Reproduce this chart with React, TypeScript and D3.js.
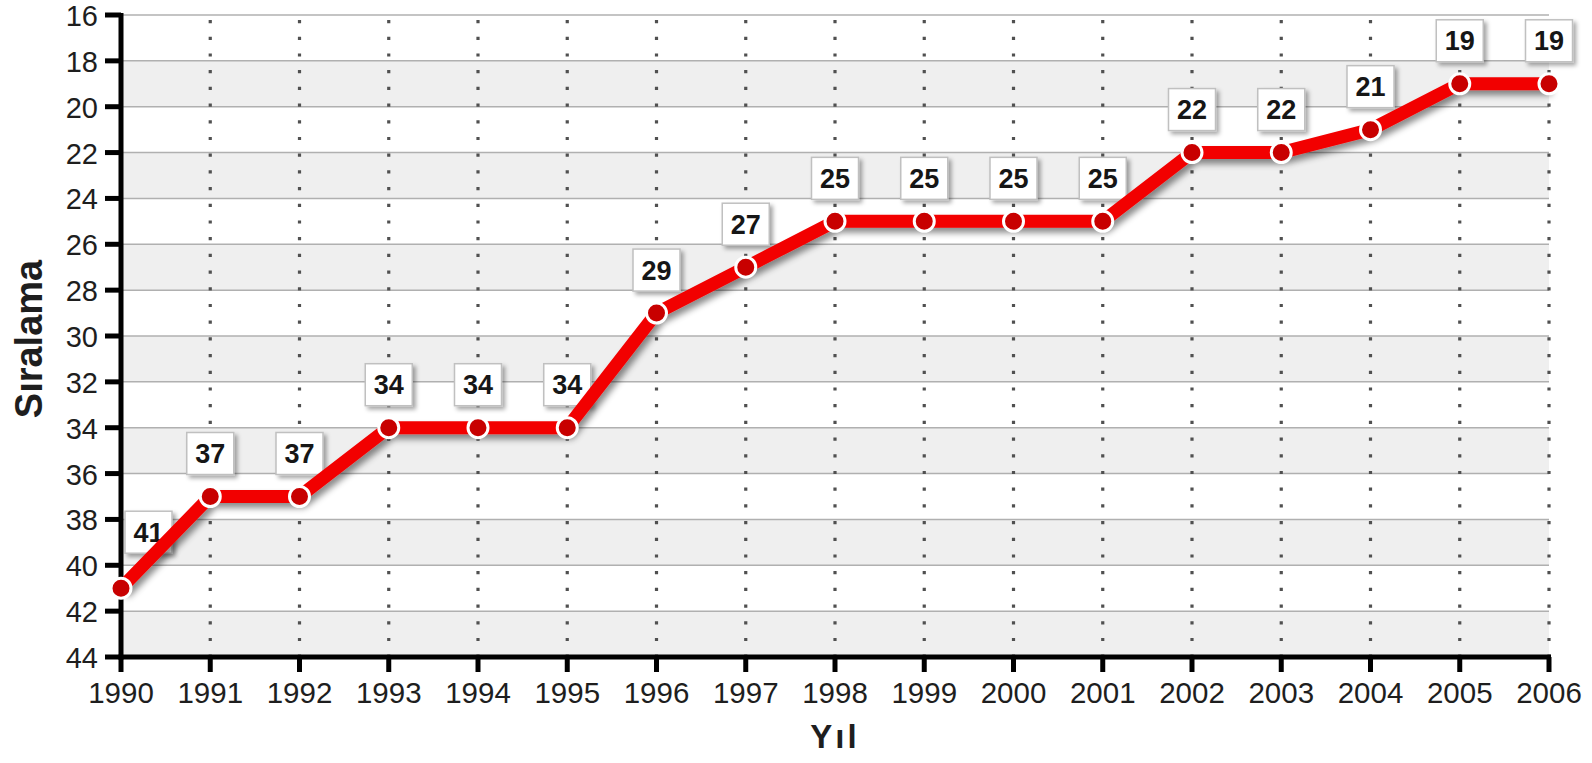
import React from "react";
import * as d3 from "d3";

const years: number[] = [1990, 1991, 1992, 1993, 1994, 1995, 1996, 1997, 1998, 1999, 2000, 2001, 2002, 2003, 2004, 2005, 2006];
const ranks: number[] = [41, 37, 37, 34, 34, 34, 29, 27, 25, 25, 25, 25, 22, 22, 21, 19, 19];
const yTicks: number[] = [16, 18, 20, 22, 24, 26, 28, 30, 32, 34, 36, 38, 40, 42, 44];
const yTitle = "Sıralama";
const xTitle = "Yıl";

const W = 1592;
const H = 763;
const X0 = 121;
const X1 = 1549;
const Y0 = 15;
const Y1 = 657;
const FONT = "'Liberation Sans', Arial, Helvetica, sans-serif";

export default function App() {
  const x = d3.scaleLinear().domain([years[0], years[years.length - 1]]).range([X0, X1]);
  const y = d3.scaleLinear().domain([16, 44]).range([Y0, Y1]);
  const pts = years.map((yr, i) => ({ yr, v: ranks[i], px: x(yr), py: y(ranks[i]) }));
  const line = d3.line<{ px: number; py: number }>().x((d) => d.px).y((d) => d.py);

  const bands: [number, number][] = [];
  for (let i = 1; i + 1 < yTicks.length; i += 2) bands.push([yTicks[i], yTicks[i + 1]]);

  const bw = 47;
  const bh = 42;

  return (
    <div style={{ position: "absolute", left: 0, top: 0, width: W, height: H, background: "#fff" }}>
      <svg width={W} height={H} style={{ display: "block" }}>
        <defs>
          <filter id="lineShadow" x="-10%" y="-10%" width="120%" height="130%">
            <feDropShadow dx="3" dy="5" stdDeviation="3" floodColor="#000" floodOpacity="0.45" />
          </filter>
          <filter id="boxShadow" x="-30%" y="-30%" width="170%" height="170%">
            <feDropShadow dx="3" dy="3" stdDeviation="2" floodColor="#000" floodOpacity="0.35" />
          </filter>
        </defs>
        {bands.map(([a, b], i) => (
          <rect key={"b" + i} x={X0} y={y(a)} width={X1 - X0} height={y(b) - y(a)} fill="#efefef" />
        ))}
        {yTicks.map((t) => (
          <line key={"h" + t} x1={X0} x2={X1} y1={y(t)} y2={y(t)} stroke="#b0b0b0" strokeWidth={1.5} />
        ))}
        {years.slice(1).map((yr) => (
          <line
            key={"v" + yr}
            x1={x(yr)}
            x2={x(yr)}
            y1={Y0 + 5}
            y2={Y1}
            stroke="#505050"
            strokeWidth={3.2}
            strokeDasharray="3.2 13.5"
          />
        ))}
        <line x1={X0} x2={X0} y1={Y0 - 2} y2={Y1 + 2.5} stroke="#000" strokeWidth={5} />
        <line x1={X0 - 2.5} x2={X1 + 2} y1={Y1} y2={Y1} stroke="#000" strokeWidth={5} />
        {yTicks.map((t) => (
          <g key={"yt" + t}>
            <line x1={X0 - 16} x2={X0} y1={y(t)} y2={y(t)} stroke="#000" strokeWidth={5} />
            <text x={98} y={y(t) + 11} textAnchor="end" fontFamily={FONT} fontSize={29} fill="#1e1e1e">
              {t}
            </text>
          </g>
        ))}
        {years.map((yr) => (
          <g key={"xt" + yr}>
            <line x1={x(yr)} x2={x(yr)} y1={Y1} y2={Y1 + 15} stroke="#000" strokeWidth={5} />
            <text x={x(yr)} y={703} textAnchor="middle" fontFamily={FONT} fontSize={29.5} fill="#1e1e1e">
              {yr}
            </text>
          </g>
        ))}
        <text
          transform={`translate(42,339) rotate(-90)`}
          textAnchor="middle"
          fontFamily={FONT}
          fontSize={38}
          fontWeight="bold"
          fill="#1e1e1e"
        >
          {yTitle}
        </text>
        <text x={835} y={748} textAnchor="middle" fontFamily={FONT} fontSize={33} fontWeight="bold" fill="#1e1e1e" letterSpacing={3}>
          {xTitle}
        </text>
        {pts.map((p, i) => {
          const shifted = p.px - bw / 2 < X0 + 4;
          const cx = shifted ? X0 + 4 + bw / 2 : p.px;
          const bottom = p.py - 22 - (shifted ? 13 : 0);
          return (
            <g key={"lb" + i}>
              <rect
                x={cx - bw / 2}
                y={bottom - bh}
                width={bw}
                height={bh}
                fill="#fff"
                stroke="#c0c0c0"
                strokeWidth={1.5}
                filter="url(#boxShadow)"
              />
              <text
                x={cx}
                y={bottom - bh / 2 + 9.5}
                textAnchor="middle"
                fontFamily={FONT}
                fontSize={27}
                fontWeight="bold"
                fill="#161616"
              >
                {p.v}
              </text>
            </g>
          );
        })}
        <path
          d={line(pts) || ""}
          fill="none"
          stroke="#f20000"
          strokeWidth={13}
          strokeLinejoin="round"
          filter="url(#lineShadow)"
        />
        {pts.map((p, i) => (
          <circle key={"c" + i} cx={p.px} cy={p.py} r={10} fill="#c80000" stroke="#fff" strokeWidth={3} />
        ))}
      </svg>
    </div>
  );
}
